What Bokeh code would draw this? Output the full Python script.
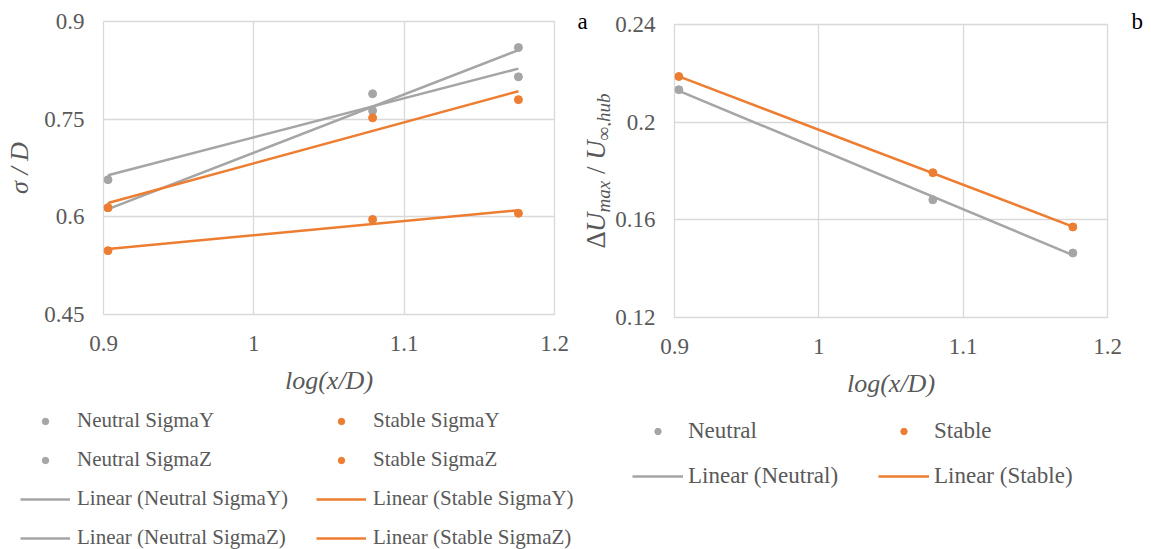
from bokeh.plotting import figure
from bokeh.models import FixedTicker, Legend, LegendItem, Label, Range1d
from bokeh.layouts import row, column
from bokeh.embed import file_html
from bokeh.resources import INLINE
import numpy as np

# ---------------- data ----------------
x_pos = [0.903, 1.079, 1.176]          # log(x/D)
neutral_sigma_y = [0.657, 0.789, 0.815]
neutral_sigma_z = [0.614, 0.763, 0.860]
stable_sigma_y = [0.614, 0.752, 0.780]
stable_sigma_z = [0.548, 0.596, 0.6055]

neutral_du = [0.2133, 0.1682, 0.1464]
stable_du = [0.2187, 0.1793, 0.1571]

x_ticks = [0.9, 1.0, 1.1, 1.2]
x_tick_labels = ["0.9", "1", "1.1", "1.2"]
left_y_ticks = [0.45, 0.6, 0.75, 0.9]
left_y_tick_labels = ["0.45", "0.6", "0.75", "0.9"]
right_y_ticks = [0.12, 0.16, 0.2, 0.24]
right_y_tick_labels = ["0.12", "0.16", "0.2", "0.24"]

GRAY = "#a5a5a5"
ORANGE = "#ed7d31"
TXT = "#595959"
GRID = "#d9d9d9"
FONT = "Liberation Serif"
TOP_H = 400
BOT_H = 149


def trend(xs, ys):
    k, b = np.polyfit(xs, ys, 1)
    xe = [min(xs), max(xs)]
    return xe, [k * v + b for v in xe]


def style(p, yt, ytl):
    p.xaxis.ticker = FixedTicker(ticks=x_ticks)
    p.yaxis.ticker = FixedTicker(ticks=yt)
    p.xaxis.major_label_overrides = {float(k): v for k, v in zip(x_ticks, x_tick_labels)}
    p.yaxis.major_label_overrides = {float(k): v for k, v in zip(yt, ytl)}
    p.xgrid.ticker = FixedTicker(ticks=x_ticks)
    p.ygrid.ticker = FixedTicker(ticks=yt)
    for ax in (p.xaxis[0], p.yaxis[0]):
        ax.axis_line_color = None
        ax.major_tick_line_color = None
        ax.minor_tick_line_color = None
        ax.major_tick_out = 0
        ax.major_tick_in = 0
        ax.major_label_text_font = FONT
        ax.major_label_text_font_size = "23px"
        ax.major_label_text_color = TXT
        ax.axis_label_text_font = FONT
        ax.axis_label_text_font_size = "26px"
        ax.axis_label_text_font_style = "italic"
        ax.axis_label_text_color = TXT
    p.xaxis.major_label_standoff = 21
    p.yaxis.major_label_standoff = 19
    p.xaxis.axis_label_standoff = 12
    p.yaxis.axis_label_standoff = 7
    p.grid.grid_line_color = GRID
    p.grid.grid_line_width = 1.3
    p.outline_line_color = GRID
    p.outline_line_width = 1.3
    p.background_fill_color = "white"
    p.border_fill_color = "white"


def blank(width, height, xr=None, yr=None):
    b = figure(width=width, height=height, output_backend="svg", toolbar_location=None,
               x_range=xr if xr is not None else Range1d(0, width),
               y_range=yr if yr is not None else Range1d(0, height),
               min_border=0, min_border_left=0, min_border_right=0,
               min_border_top=0, min_border_bottom=0, frame_align=False)
    b.axis.visible = False
    b.grid.visible = False
    b.outline_line_color = None
    b.background_fill_color = "white"
    b.border_fill_color = "white"
    return b


# ---------------- left chart ----------------
p1 = figure(width=570, height=TOP_H, output_backend="svg", toolbar_location=None,
            x_range=Range1d(0.9, 1.2), y_range=Range1d(0.45, 0.9),
            min_border_left=103, min_border_right=16, min_border_top=21,
            min_border_bottom=TOP_H - 314, frame_align=False)
style(p1, left_y_ticks, left_y_tick_labels)
p1.xaxis.axis_label = "log(x/D)"
p1.yaxis.axis_label = "σ / D"

series_left = [
    ("ny", neutral_sigma_y, GRAY),
    ("nz", neutral_sigma_z, GRAY),
    ("sy", stable_sigma_y, ORANGE),
    ("sz", stable_sigma_z, ORANGE),
]
for name, ys, col in series_left:
    xe, ye = trend(x_pos, ys)
    p1.line(xe, ye, line_color=col, line_width=2.5)
for name, ys, col in series_left:
    p1.scatter(x_pos, ys, size=8, fill_color=col, line_color=col)

# ---------------- label strip between charts ("a" + right y title) ----------------
plab = blank(41, TOP_H)
plab.add_layout(Label(x=7, y=TOP_H - 21, text="a",
                      text_font=FONT, text_font_size="23px", text_color="black",
                      text_align="left", text_baseline="alphabetic"))
pieces = [("Δ", "normal", 27, 0.612, 0), ("U", "italic", 27, 0.722, 0),
          ("max", "italic", 19, 1.666, 1), ("/", "normal", 27, 0.778, 0),
          ("U", "italic", 27, 0.722, 0), ("∞,hub", "italic", 19, 2.463, 1)]
ypos = TOP_H - 248.0
for txt, st, sz, w, sub in pieces:
    off = 0.25 * sz if txt == "/" else 0
    plab.add_layout(Label(x=33 if sub else 25, y=ypos + off, text=txt, angle=np.pi / 2,
                          text_font=FONT, text_font_style=st,
                          text_font_size=f"{sz}px", text_color=TXT,
                          text_align="left", text_baseline="alphabetic"))
    ypos += w * sz

# ---------------- right chart ----------------
p2 = figure(width=514, height=TOP_H, output_backend="svg", toolbar_location=None,
            x_range=Range1d(0.9, 1.2), y_range=Range1d(0.12, 0.24),
            min_border_left=63, min_border_right=18, min_border_top=24,
            min_border_bottom=TOP_H - 317, frame_align=False)
style(p2, right_y_ticks, right_y_tick_labels)
p2.xaxis.axis_label = "log(x/D)"

xe, ye = trend(x_pos, neutral_du)
p2.line(xe, ye, line_color=GRAY, line_width=2.5)
xe, ye = trend(x_pos, stable_du)
p2.line(xe, ye, line_color=ORANGE, line_width=2.5)
p2.scatter(x_pos, neutral_du, size=8, fill_color=GRAY, line_color=GRAY)
p2.scatter(x_pos, stable_du, size=8, fill_color=ORANGE, line_color=ORANGE)

pb = blank(26, TOP_H)
pb.add_layout(Label(x=6, y=TOP_H - 21, text="b",
                    text_font=FONT, text_font_size="23px", text_color="black",
                    text_align="left", text_baseline="alphabetic"))

# ---------------- legends (proxy renderers kept out of view) ----------------
lg1 = blank(576, BOT_H, xr=Range1d(10, 11), yr=Range1d(10, 11))
r = {}
for name, ys, col in series_left:
    r["pt_" + name] = lg1.scatter(x_pos, ys, size=8, fill_color=col, line_color=col)
    xe, ye = trend(x_pos, ys)
    r["ln_" + name] = lg1.line(xe, ye, line_color=col, line_width=2.5)
items_left = [
    LegendItem(label="Neutral SigmaY", renderers=[r["pt_ny"]]),
    LegendItem(label="Neutral SigmaZ", renderers=[r["pt_nz"]]),
    LegendItem(label="Linear (Neutral SigmaY)", renderers=[r["ln_ny"]]),
    LegendItem(label="Linear (Neutral SigmaZ)", renderers=[r["ln_nz"]]),
    LegendItem(label="Stable SigmaY", renderers=[r["pt_sy"]]),
    LegendItem(label="Stable SigmaZ", renderers=[r["pt_sz"]]),
    LegendItem(label="Linear (Stable SigmaY)", renderers=[r["ln_sy"]]),
    LegendItem(label="Linear (Stable SigmaZ)", renderers=[r["ln_sz"]]),
]
lg1.add_layout(Legend(items=items_left, location=(20, -1), ncols=2,
                      glyph_width=50, glyph_height=16, label_standoff=7,
                      label_width=225, label_height=24, spacing=14, padding=0, margin=0,
                      border_line_color=None, background_fill_alpha=0,
                      label_text_font=FONT, label_text_font_size="21px",
                      label_text_color=TXT))

lg2 = blank(575, BOT_H, xr=Range1d(10, 11), yr=Range1d(10, 11))
q = {}
for name, ys, col in (("n", neutral_du, GRAY), ("s", stable_du, ORANGE)):
    q["pt_" + name] = lg2.scatter(x_pos, ys, size=8, fill_color=col, line_color=col)
    xe, ye = trend(x_pos, ys)
    q["ln_" + name] = lg2.line(xe, ye, line_color=col, line_width=2.5)
items_right = [
    LegendItem(label="Neutral", renderers=[q["pt_n"]]),
    LegendItem(label="Linear (Neutral)", renderers=[q["ln_n"]]),
    LegendItem(label="Stable", renderers=[q["pt_s"]]),
    LegendItem(label="Linear (Stable)", renderers=[q["ln_s"]]),
]
lg2.add_layout(Legend(items=items_right, location=(56, 59), ncols=2,
                      glyph_width=51, glyph_height=16, label_standoff=5,
                      label_width=173, label_height=28, spacing=17, padding=0, margin=0,
                      border_line_color=None, background_fill_alpha=0,
                      label_text_font=FONT, label_text_font_size="23px",
                      label_text_color=TXT))

layout = column(row(p1, plab, p2, pb), row(lg1, lg2))
open("out.html", "w").write(file_html(layout, INLINE))
